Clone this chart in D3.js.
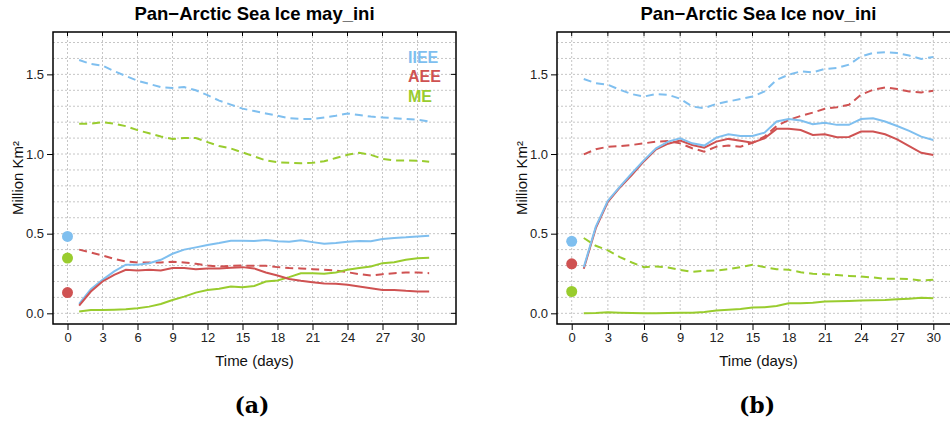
<!DOCTYPE html>
<html>
<head>
<meta charset="utf-8">
<script src="https://cdn.jsdelivr.net/npm/d3@7"></script>
<style>
  body { margin: 0; background: #fff; }
  svg { display: block; font-family: "Liberation Sans", Arial, sans-serif; }
</style>
</head>
<body>
<svg id="chart" width="950" height="421"></svg>
<script>
// x categories
const daysMay = [1,2,3,4,5,6,7,8,9,10,11,12,13,14,15,16,17,18,19,20,21,22,23,24,25,26,27,28,29,30,31];
const daysNov = [1,2,3,4,5,6,7,8,9,10,11,12,13,14,15,16,17,18,19,20,21,22,23,24,25,26,27,28,29,30];
const xTicks = [0,3,6,9,12,15,18,21,24,27,30];
const yTicks = [0.0, 0.5, 1.0, 1.5];
const yGrid = [0,0.1,0.2,0.3,0.4,0.5,0.6,0.7,0.8,0.9,1.0,1.1,1.2,1.3,1.4,1.5,1.6,1.7];
const seriesNames = ["IIEE", "AEE", "ME"];

// may_ini
const mayIieeDash = [1.59,1.565,1.555,1.52,1.49,1.46,1.44,1.42,1.415,1.42,1.40,1.37,1.335,1.31,1.285,1.27,1.255,1.24,1.225,1.22,1.22,1.23,1.24,1.255,1.245,1.235,1.23,1.225,1.22,1.215,1.205];
const mayAeeDash  = [0.40,0.382,0.363,0.342,0.326,0.319,0.319,0.319,0.324,0.319,0.311,0.30,0.294,0.298,0.30,0.298,0.298,0.29,0.284,0.282,0.277,0.273,0.269,0.258,0.246,0.237,0.246,0.252,0.256,0.256,0.252];
const mayMeDash   = [1.19,1.19,1.20,1.19,1.175,1.15,1.13,1.11,1.095,1.10,1.10,1.075,1.05,1.035,1.01,0.985,0.96,0.948,0.945,0.942,0.945,0.955,0.975,0.995,1.008,0.995,0.97,0.96,0.96,0.958,0.952];
const mayIiee = [0.059,0.151,0.21,0.263,0.305,0.305,0.315,0.336,0.374,0.40,0.414,0.429,0.441,0.456,0.456,0.454,0.46,0.452,0.45,0.458,0.447,0.437,0.441,0.45,0.454,0.452,0.466,0.473,0.477,0.483,0.487];
const mayAee  = [0.048,0.137,0.2,0.242,0.273,0.269,0.273,0.269,0.284,0.284,0.277,0.282,0.282,0.286,0.29,0.282,0.256,0.237,0.216,0.204,0.195,0.187,0.185,0.179,0.168,0.158,0.147,0.147,0.141,0.137,0.137];
const mayMe   = [0.011,0.021,0.021,0.023,0.025,0.032,0.042,0.059,0.084,0.105,0.13,0.147,0.155,0.168,0.164,0.172,0.20,0.206,0.227,0.252,0.252,0.248,0.256,0.273,0.284,0.294,0.315,0.321,0.336,0.345,0.349];
const mayStart = [0.483, 0.13, 0.347];

// nov_ini
const novIieeDash = [1.471,1.445,1.435,1.403,1.376,1.361,1.376,1.372,1.347,1.298,1.288,1.315,1.33,1.345,1.361,1.393,1.466,1.498,1.519,1.513,1.534,1.54,1.561,1.613,1.634,1.639,1.634,1.618,1.597,1.609];
const novAeeDash  = [0.998,1.03,1.046,1.05,1.057,1.067,1.078,1.082,1.067,1.036,1.015,1.046,1.053,1.046,1.071,1.109,1.176,1.214,1.239,1.26,1.284,1.294,1.309,1.372,1.403,1.418,1.408,1.393,1.387,1.397];
const novMeDash   = [0.473,0.424,0.395,0.353,0.319,0.29,0.294,0.288,0.273,0.26,0.267,0.269,0.277,0.29,0.305,0.29,0.277,0.273,0.258,0.248,0.246,0.24,0.235,0.231,0.225,0.216,0.218,0.216,0.206,0.21];
const novIiee = [0.289,0.544,0.707,0.795,0.88,0.962,1.036,1.078,1.099,1.067,1.053,1.103,1.124,1.113,1.113,1.134,1.204,1.22,1.21,1.187,1.197,1.183,1.183,1.22,1.225,1.204,1.176,1.145,1.109,1.088];
const novAee  = [0.28,0.535,0.70,0.79,0.87,0.955,1.03,1.065,1.084,1.057,1.04,1.078,1.095,1.084,1.071,1.099,1.158,1.158,1.151,1.12,1.124,1.105,1.107,1.141,1.141,1.124,1.092,1.05,1.008,0.994];
const novMe   = [0.0,0.002,0.006,0.004,0.002,0.0,0.0,0.002,0.004,0.004,0.008,0.017,0.023,0.027,0.036,0.038,0.046,0.063,0.063,0.067,0.074,0.076,0.078,0.08,0.082,0.084,0.088,0.092,0.097,0.095];
const novStart = [0.452, 0.311, 0.137];

const colors = ["#7fbfef", "#cf5252", "#99cc2e"];
const sans = "Liberation Sans, Arial, sans-serif";

const svg = d3.select("#chart");

const y = d3.scaleLinear().domain([-0.067, 1.766]).range([324, 32]);

function drawPanel(opts) {
    const g = svg.append("g");
    const x = d3.scaleLinear().domain([0, 30]).range(opts.xRange);
    const left = opts.box[0], right = opts.box[1];
    const top = 32, bottom = 324;

    // grid
    g.selectAll(".gy").data(yGrid).join("line")
        .attr("x1", left).attr("x2", right)
        .attr("y1", d => y(d)).attr("y2", d => y(d))
        .attr("stroke", "#c6c6c6").attr("stroke-dasharray", "2,2");
    g.selectAll(".gx").data(xTicks).join("line")
        .attr("x1", d => x(d)).attr("x2", d => x(d))
        .attr("y1", top).attr("y2", bottom)
        .attr("stroke", "#c6c6c6").attr("stroke-dasharray", "2,2");

    const line = d3.line()
        .x((d, i) => x(opts.days[i]))
        .y(d => y(d));

    // dashed lines first, then solid
    const dashed = [opts.iieeDash, opts.aeeDash, opts.meDash];
    const solid = [opts.iiee, opts.aee, opts.me];
    [2, 1, 0].forEach(k => {
        g.append("path").datum(dashed[k])
            .attr("d", line).attr("fill", "none")
            .attr("stroke", colors[k]).attr("stroke-width", 2)
            .attr("stroke-dasharray", "8,5");
    });
    opts.solidOrder.forEach(k => {
        g.append("path").datum(solid[k])
            .attr("d", line).attr("fill", "none")
            .attr("stroke", colors[k]).attr("stroke-width", 2);
    });

    // day-0 points
    g.selectAll(".pt").data(opts.start).join("circle")
        .attr("cx", x(0)).attr("cy", d => y(d)).attr("r", 5.5)
        .attr("fill", (d, i) => colors[i]);

    // box
    g.append("rect")
        .attr("x", left).attr("y", top)
        .attr("width", right - left).attr("height", bottom - top)
        .attr("fill", "none").attr("stroke", "#000").attr("stroke-width", 1.5);

    // axes
    const xAxis = d3.axisBottom(x).tickValues(xTicks).tickSize(6).tickPadding(3).tickSizeOuter(0);
    const gx = g.append("g").attr("transform", `translate(0,${bottom})`).call(xAxis);
    gx.select(".domain").remove();
    gx.selectAll("text").attr("font-size", 13).attr("fill", "#222").attr("font-family", sans);

    const yAxis = d3.axisLeft(y).tickValues(yTicks).tickFormat(d3.format(".1f")).tickSize(6).tickPadding(3);
    const gy = g.append("g").attr("transform", `translate(${left},0)`).call(yAxis);
    gy.select(".domain").remove();
    gy.selectAll("text").attr("font-size", 13).attr("fill", "#222").attr("font-family", sans);

    // inner ticks on top and right
    g.selectAll(".tt").data(xTicks).join("line")
        .attr("x1", d => x(d)).attr("x2", d => x(d))
        .attr("y1", top).attr("y2", top + 4).attr("stroke", "#000");
    g.selectAll(".rt").data(yTicks).join("line")
        .attr("x1", right - 5).attr("x2", right)
        .attr("y1", d => y(d)).attr("y2", d => y(d)).attr("stroke", "#000");

    // titles
    const cx = (left + right) / 2;
    g.append("text").attr("x", cx).attr("y", 20)
        .attr("text-anchor", "middle").attr("font-size", 18.5).attr("font-weight", "bold")
        .attr("font-family", sans)
        .text(opts.title);
    g.append("text").attr("x", cx).attr("y", 366)
        .attr("text-anchor", "middle").attr("font-size", 15).attr("fill", "#111")
        .attr("font-family", sans)
        .text("Time (days)");
    g.append("text")
        .attr("transform", `translate(${left - 30},178) rotate(-90)`)
        .attr("text-anchor", "middle").attr("font-size", 15).attr("fill", "#111")
        .attr("font-family", sans)
        .text("Million Km²");
    g.append("text").attr("x", opts.labelX).attr("y", 413)
        .attr("text-anchor", "middle").attr("font-size", 22).attr("font-weight", "bold")
        .attr("font-family", "DejaVu Serif, serif")
        .text(opts.label);

    if (opts.legend) {
        g.selectAll(".lg").data(seriesNames).join("text")
            .attr("x", 408).attr("y", (d, i) => 62.5 + i * 19.5)
            .attr("font-size", 16).attr("font-weight", "bold")
            .attr("font-family", sans)
            .attr("fill", (d, i) => colors[i])
            .text(d => d);
    }
}

drawPanel({
    title: "Pan\u2212Arctic Sea Ice may_ini", label: "(a)", labelX: 252,
    xRange: [67.5, 417.5], box: [53, 456], days: daysMay,
    iieeDash: mayIieeDash, aeeDash: mayAeeDash, meDash: mayMeDash,
    iiee: mayIiee, aee: mayAee, me: mayMe, start: mayStart,
    solidOrder: [2, 0, 1], legend: true
});
drawPanel({
    title: "Pan\u2212Arctic Sea Ice nov_ini", label: "(b)", labelX: 757,
    xRange: [571.7, 933.3], box: [557, 960], days: daysNov,
    iieeDash: novIieeDash, aeeDash: novAeeDash, meDash: novMeDash,
    iiee: novIiee, aee: novAee, me: novMe, start: novStart,
    solidOrder: [2, 1, 0], legend: false
});
</script>
</body>
</html>
